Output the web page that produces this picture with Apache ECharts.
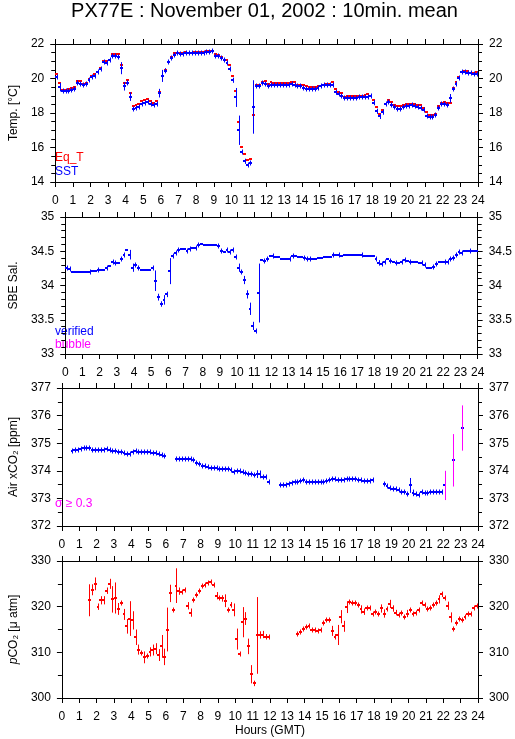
<!DOCTYPE html>
<html>
<head>
<meta charset="utf-8">
<script src="https://cdn.jsdelivr.net/npm/echarts@6/dist/echarts.min.js"></script>
<style>
  html, body { margin: 0; padding: 0; background: #fff; }
  #chart { width: 515px; height: 739px; }
</style>
</head>
<body>
<div id="chart"></div>
<script>
// 10 min means, one value per slot from 00:00 GMT (6 per row = 1 hour), null = no data
let hourTicks = [0, 24, 1];

let eqTemp = [
  20.25, 19.75, 19.35, 19.35, 19.40, 19.45,
  19.50, 19.85, 19.85, 19.70, 19.75, 19.95,
  20.15, 20.25, 20.40, 20.60, 21.00, 21.00,
  21.10, 21.40, 21.40, 21.40, 20.80, 19.75,
  19.90, 19.15, 18.40, 18.45, 18.50, 18.70,
  18.75, 18.80, 18.70, 18.60, 18.70, 19.20,
  20.15, 20.50, 20.95, 21.25, 21.45, 21.50,
  21.50, 21.50, 21.55, 21.50, 21.50, 21.55,
  21.55, 21.55, 21.55, 21.60, 21.60, 21.60,
  21.40, 21.35, 21.25, 21.10, 21.05, 20.80,
  20.15, 19.25, 17.50, 16.05, 15.60, 15.25,
  15.35, 17.90, 19.65, 19.60, 19.80, 19.85,
  19.70, 19.80, 19.75, 19.75, 19.75, 19.75,
  19.75, 19.75, 19.80, 19.80, 19.65, 19.65,
  19.65, 19.55, 19.50, 19.50, 19.50, 19.55,
  19.55, 19.65, 19.70, 19.70, 19.80, 19.40,
  19.20, 19.15, 18.95, 19.00, 19.00, 19.00,
  19.00, 19.00, 19.00, 19.05, 19.10, 19.00,
  18.75, 18.35, 17.95, 18.15, 18.55, 18.75,
  18.65, 18.45, 18.40, 18.40, 18.45, 18.50,
  18.55, 18.50, 18.50, 18.45, 18.45, 18.30,
  18.05, 17.90, 17.90, 17.95, 18.40, 18.60,
  18.65, 18.60, 18.60, 19.45, 19.80, 20.10,
  20.40, 20.45, 20.45, 20.30, 20.30, 20.35
];

let sstTemp = [
  20.10, 19.50, 19.25, 19.25, 19.30, 19.35,
  19.40, 19.75, 19.70, 19.60, 19.70, 19.90,
  20.10, 20.15, 20.35, 20.55, 20.95, 20.90,
  21.05, 21.30, 21.30, 21.25, 20.60, 19.55,
  19.75, 18.95, 18.25, 18.30, 18.35, 18.55,
  18.60, 18.65, 18.55, 18.45, 18.50, 19.15,
  20.15, 20.45, 20.95, 21.20, 21.35, 21.45,
  21.42, 21.40, 21.45, 21.45, 21.45, 21.50,
  21.50, 21.50, 21.50, 21.55, 21.55, 21.60,
  21.30, 21.30, 21.20, 21.05, 20.90, 20.55,
  19.90, 18.90, 17.00, 15.75, 15.20, 15.00,
  15.10, 18.35, 19.55, 19.55, 19.75, 19.70,
  19.55, 19.65, 19.60, 19.60, 19.60, 19.60,
  19.60, 19.65, 19.70, 19.65, 19.55, 19.55,
  19.45, 19.40, 19.40, 19.40, 19.40, 19.45,
  19.55, 19.60, 19.60, 19.65, 19.65, 19.20,
  19.10, 19.00, 18.85, 18.85, 18.85, 18.85,
  18.85, 18.90, 18.90, 18.90, 18.95, 19.00,
  18.60, 18.10, 17.80, 18.05, 18.50, 18.65,
  18.45, 18.35, 18.25, 18.25, 18.35, 18.40,
  18.40, 18.45, 18.40, 18.35, 18.30, 18.15,
  17.85, 17.75, 17.75, 17.90, 18.30, 18.55,
  18.55, 18.45, 18.85, 19.40, 19.70, 20.05,
  20.40, 20.40, 20.30, 20.30, 20.25, 20.25
];

let sstSigma = [
  .12, .25, .04, .04, .04, .04,
  .04, .15, .06, .06, .06, .08,
  .04, .04, .06, .06, .06, .04,
  .06, .04, .04, .06, .35, .25,
  .15, .25, .08, .06, .06, .06,
  .04, .08, .06, .08, .04, .25,
  .35, .15, .10, .10, .06, .04,
  .04, .04, .04, .04, .04, .04,
  .04, .04, .04, .04, .04, .04,
  .06, .06, .08, .06, .10, .10,
  .15, .55, .85, .10, .15, .08,
  .06, 1.55, .08, .06, .06, .06,
  .06, .04, .04, .04, .04, .04,
  .04, .04, .04, .04, .04, .04,
  .04, .04, .04, .04, .04, .04,
  .04, .04, .04, .04, .08, .15,
  .10, .06, .04, .04, .04, .04,
  .04, .04, .04, .04, .04, .06,
  .15, .15, .15, .15, .10, .06,
  .06, .06, .04, .04, .04, .04,
  .04, .04, .04, .04, .04, .08,
  .08, .04, .04, .04, .06, .10,
  .06, .06, .25, .12, .12, .10,
  .06, .04, .04, .04, .04, .04
];

let salinity = [
  34.26, 34.24, 34.20, 34.20, 34.20, 34.20,
  34.20, 34.20, 34.19, 34.21, 34.21, 34.22,
  34.22, 34.22, 34.25, 34.28, 34.34, 34.33,
  34.33, 34.38, 34.45, 34.52, 34.45, 34.26,
  34.30, 34.26, 34.22, 34.22, 34.22, 34.22,
  34.25, 34.07, 33.83, 33.73, 33.79, 33.87,
  34.21, 34.43, 34.48, 34.52, 34.53, 34.53,
  34.50, 34.54, 34.55, 34.55, 34.59, 34.60,
  34.59, 34.59, 34.59, 34.59, 34.59, 34.58,
  34.50, 34.49, 34.52, 34.49, 34.52, 34.42,
  34.26, 34.19, 34.08, 33.87, 33.66, 33.41,
  33.33, 33.89, 34.37, 34.36, 34.39, 34.43,
  34.43, 34.41, 34.41, 34.39, 34.39, 34.39,
  34.39, 34.43, 34.43, 34.41, 34.41, 34.40,
  34.39, 34.39, 34.38, 34.38, 34.40, 34.40,
  34.42, 34.42, 34.42, 34.44, 34.45, 34.44,
  34.43, 34.45, 34.45, 34.44, 34.44, 34.44,
  34.44, 34.44, 34.43, 34.43, 34.43, 34.43,
  34.38, 34.33, 34.31, 34.35, 34.38, 34.36,
  34.34, 34.33, 34.33, 34.34, 34.37, 34.36,
  34.35, 34.35, 34.35, 34.33, 34.33, 34.30,
  34.26, 34.26, 34.27, 34.32, 34.35, 34.35,
  34.34, 34.34, 34.39, 34.40, 34.45, 34.49,
  34.48, 34.50, 34.51, 34.50, 34.51, 34.51
];

let salSigma = [
  .02, .02, 0, 0, 0, 0,
  0, 0, .02, 0, 0, .02,
  0, 0, .02, 0, .02, .02,
  0, .02, .03, 0, .07, .06,
  .02, .02, 0, 0, 0, 0,
  .02, .15, .05, .04, .07, .04,
  .19, .02, .02, .02, 0, 0,
  .02, .02, 0, .02, .02, 0,
  0, 0, 0, 0, 0, .02,
  .02, 0, .02, .02, .02, .02,
  .06, .02, .06, .06, .09, .06,
  .02, .43, 0, .02, .02, 0,
  .02, 0, 0, 0, 0, 0,
  .02, .02, 0, 0, 0, .02,
  .02, .02, 0, 0, 0, 0,
  0, 0, 0, .02, 0, .02,
  0, 0, 0, 0, 0, 0,
  0, .02, 0, 0, 0, 0,
  .02, .04, .02, .02, 0, .02,
  0, .02, 0, .02, .02, 0,
  .02, 0, 0, 0, .02, .02,
  0, 0, .02, .02, 0, 0,
  .02, .02, .02, .02, .02, .02,
  .02, 0, 0, .02, 0, 0
];

let airCO2 = [
  null, null, null, 374.72, 374.74, 374.74,
  374.80, 374.82, 374.83, 374.83, 374.77, 374.75,
  374.75, 374.75, 374.75, 374.78, 374.75, 374.72,
  374.70, 374.68, 374.68, 374.65, 374.60, 374.62,
  374.68, 374.70, 374.69, 374.69, 374.69, 374.69,
  374.69, 374.66, 374.65, 374.62, 374.57, 374.53,
  null, null, null, 374.43, 374.43, 374.43,
  374.43, 374.43, 374.43, 374.40, 374.30, 374.25,
  374.18, 374.17, 374.12, 374.11, 374.10, 374.10,
  374.07, 374.06, 374.05, 374.05, 374.02, 373.97,
  374.00, 374.00, 373.94, 373.92, 373.90, 373.88,
  373.86, 373.88, 373.87, 373.76, 373.76, 373.61,
  null, null, null, 373.47, 373.47, 373.47,
  373.52, 373.55, 373.59, 373.61, 373.64, 373.65,
  373.61, 373.59, 373.61, 373.61, 373.61, 373.59,
  373.59, 373.62, 373.66, 373.69, 373.69, 373.67,
  373.67, 373.67, 373.70, 373.72, 373.72, 373.70,
  373.66, 373.65, 373.62, 373.62, 373.63, 373.65,
  null, null, null, 373.52, 373.45, 373.38,
  373.35, 373.35, 373.30, 373.25, 373.23, 373.15,
  373.47, 373.20, 373.17, 373.13, 373.22, 373.20,
  373.20, 373.23, 373.23, 373.23, 373.23, 373.23,
  373.47, null, null, 374.38, null, null,
  375.55, null, null, null, null, null
];

let airSigma = [
  0, 0, 0, .03, .03, .03,
  .03, .03, .03, .03, .03, .03,
  .03, .03, .03, .03, .03, .03,
  .03, .03, .03, .03, .03, .03,
  .03, .03, .03, .03, .03, .03,
  .03, .03, .03, .03, .03, .03,
  0, 0, 0, .03, .03, .03,
  .03, .03, .03, .03, .03, .03,
  .03, .03, .03, .03, .03, .03,
  .03, .03, .03, .03, .03, .03,
  .03, .03, .03, .03, .03, .03,
  .03, .14, .14, .03, .03, .05,
  0, 0, 0, .03, .03, .03,
  .03, .03, .03, .03, .03, .03,
  .03, .03, .03, .03, .03, .03,
  .03, .03, .03, .03, .03, .03,
  .03, .03, .03, .03, .03, .03,
  .03, .03, .03, .03, .03, .03,
  0, 0, 0, .03, .03, .03,
  .03, .03, .03, .03, .03, .03,
  .27, .12, .03, .03, .03, .03,
  .03, .03, .03, .03, .03, .03,
  .53, 0, 0, .95, 0, 0,
  .82, 0, 0, 0, 0, 0
];

let seaCO2 = [
  null, null, null, null, null, null,
  null, null, null, 321.4, 323.7, 325.0,
  320.0, 321.4, 321.4, 323.5, 325.0, 321.6,
  321.9, 319.5, 320.8, 318.3, 315.7, 317.4,
  317.0, 313.3, 310.6, 309.8, 308.9, 309.2,
  310.1, 310.5, 310.8, 309.4, 311.3, 309.0,
  315.0, 322.9, 319.2, 324.6, 323.4, 323.2,
  323.6, 320.2, 318.7, 321.5, 322.6, 323.5,
  324.6, 324.8, 325.1, 325.3, 324.8, 322.4,
  321.9, 321.8, 321.3, 319.3, 320.4, 319.3,
  312.9, 309.6, 316.6, 317.4, 311.3, 305.2,
  303.2, 313.7, 313.8, 313.9, 313.4, 313.3,
  null, null, null, null, null, null,
  null, null, null, 313.95, 314.5, 315.1,
  315.55, 315.8, 315.0, 315.0, 314.6, 314.8,
  316.35, 317.0, 317.0, 314.7, 313.4, 313.8,
  317.8, 315.7, 319.9, 321.1, 320.8, 320.8,
  320.3, 319.4, 318.9, 319.8, 319.6, 318.5,
  318.9, 318.5, 319.6, 318.5, 319.5, 320.6,
  319.6, 318.7, 318.2, 318.7, 317.8, 318.5,
  319.3, 318.5, 318.7, 319.2, 320.9, 320.3,
  319.5, 319.8, 320.3, 320.7, 321.6, 322.7,
  321.8, 320.2, 317.65, 315.1, 316.35, 317.2,
  317.0, 317.7, 318.5, 318.5, 319.6, 320.1
];

let seaSigma = [
  0, 0, 0, 0, 0, 0,
  0, 0, 0, 3.5, 1.2, 1.4,
  .7, .9, .9, .7, 1.1, 2.9,
  3.4, 1.3, .4, 1.2, 1.6, 3.8,
  2.0, 1.7, 1.1, .5, 1.3, .5,
  1.0, 1.2, 1.2, 1.3, 2.5, 1.8,
  4.8, 1.9, .5, 3.8, .8, .5,
  .4, .8, .9, .4, .4, .3,
  .3, .3, .3, .3, .3, .8,
  .4, .7, 1.4, .5, .6, 1.4,
  2.3, .5, 3.3, 1.4, 1.7, 2.0,
  .6, 8.4, .8, .8, .6, .5,
  0, 0, 0, 0, 0, 0,
  0, 0, 0, .5, .4, .4,
  .3, .4, .3, .3, .3, .3,
  .5, .4, .4, 1.1, .6, 2.2,
  1.45, 1.2, 1.3, .3, .3, .3,
  .4, .9, .7, .3, .3, .5,
  .5, .5, .9, .9, .5, .9,
  .7, .6, .5, .4, .4, .8,
  .5, .3, .3, .5, .3, .5,
  .5, .4, .3, .3, .9, .6,
  .4, .9, 1.1, .5, .4, .4,
  .3, .4, .3, .3, .5, .4
];

// panel y ranges [min, max, label step, minor splits]
let tempAxis = [14, 22, 2, 4];
let salAxis = [33, 35, 0.5, 5];
let airAxis = [372, 377, 1, 2];
let seaAxis = [300, 330, 10, 2];

const SLOT = 1 / 6;

function slots(values, sigmas) {
    let out = [];
    for (let i = 0; i < values.length; i++) {
        if (values[i] == null) continue;
        out.push([i * SLOT + SLOT / 2, values[i], sigmas ? sigmas[i] : 0]);
    }
    return out;
}

// each 10 min mean drawn as a bar over its slot plus a +-sigma whisker
function crossMark(color, hWidth, flagColor, flagLimit) {
    return function (params, api) {
        let t = api.value(0), v = api.value(1), s = api.value(2);
        let a = api.coord([t - SLOT / 2, v]);
        let b = api.coord([t + SLOT / 2, v]);
        let y = Math.round(a[1]) + (hWidth % 2 ? 0.5 : 0);
        let x = Math.round((a[0] + b[0]) / 2) + 0.5;
        let kids = [{
            type: 'line',
            shape: {x1: Math.round(a[0]), y1: y, x2: Math.round(b[0]), y2: y},
            style: {stroke: color, lineWidth: hWidth}
        }];
        if (s > 0) {
            let top = api.coord([t, v + s])[1];
            let bot = api.coord([t, v - s])[1];
            if (bot - top < 5) { top = y - 2.5; bot = y + 2.5; }
            kids.push({
                type: 'line',
                shape: {x1: x, y1: top, x2: x, y2: bot},
                style: {stroke: (flagLimit && s >= flagLimit) ? flagColor : color, lineWidth: 1}
            });
        }
        return {type: 'group', children: kids};
    };
}

const FONT = '"Liberation Sans", Arial, Helvetica, sans-serif';
const tops = [44, 217, 388, 561];
const heights = [138, 137, 138, 137];

let grids = tops.map((t, k) => ({left: 51, top: t, width: 427, height: heights[k]}));

let xAxes = [];
let yAxes = [];
let yNames = ['Temp. [°C]', 'SBE Sal.', 'Air xCO₂ [ppm]', '{i|p}CO₂ [μ atm]'];
let yRanges = [tempAxis, salAxis, airAxis, seaAxis];

for (let k = 0; k < 4; k++) {
    ['bottom', 'top'].forEach(pos => {
        xAxes.push({
            type: 'value', gridIndex: k, position: pos,
            min: hourTicks[0], max: hourTicks[1], interval: hourTicks[2],
            axisLine: {show: true, onZero: false, lineStyle: {color: '#000', width: 1}},
            axisTick: {show: true, inside: false, length: 5, lineStyle: {color: '#000'}},
            axisLabel: {show: pos === 'bottom', color: '#000', fontSize: 12, fontFamily: FONT, margin: 13},
            splitLine: {show: false},
            name: (k === 3 && pos === 'bottom') ? 'Hours (GMT)' : '',
            nameLocation: 'middle', nameGap: 27,
            nameTextStyle: {color: '#000', fontSize: 12, fontFamily: FONT}
        });
    });
    let r = yRanges[k];
    ['left', 'right'].forEach(pos => {
        yAxes.push({
            type: 'value', gridIndex: k, position: pos,
            min: r[0], max: r[1], interval: r[2],
            axisLine: {show: true, onZero: false, lineStyle: {color: '#000', width: 1}},
            axisTick: {show: true, inside: false, length: 5, lineStyle: {color: '#000'}},
            minorTick: {show: true, splitNumber: r[3], length: 4, lineStyle: {color: '#000'}},
            axisLabel: {color: '#000', fontSize: 12, fontFamily: FONT, margin: 11},
            splitLine: {show: false},
            minorSplitLine: {show: false},
            name: pos === 'left' ? yNames[k] : '',
            nameLocation: 'middle', nameGap: 25, nameRotate: 90,
            nameTextStyle: {
                color: '#000', fontSize: 12, fontFamily: FONT,
                rich: {i: {fontStyle: 'italic', fontSize: 12, fontFamily: FONT, color: '#000'}}
            }
        });
    });
}

function panelSeries(k, data, renderer) {
    return {
        type: 'custom', xAxisIndex: 2 * k, yAxisIndex: 2 * k,
        encode: {x: 0, y: 1}, data: data, renderItem: renderer, silent: true
    };
}

let series = [
    panelSeries(0, slots(eqTemp), crossMark('#ff0000', 2)),
    panelSeries(0, slots(sstTemp, sstSigma), crossMark('#0000ff', 2)),
    panelSeries(1, slots(salinity, salSigma), crossMark('#0000ff', 2)),
    panelSeries(2, slots(airCO2, airSigma), crossMark('#0000ff', 2, '#ff00ff', 0.3)),
    panelSeries(3, slots(seaCO2, seaSigma), crossMark('#ff0000', 2))
];

function label(text, x, y, color, size) {
    return {
        type: 'text', x: x, y: y, silent: true,
        style: {text: text, fill: color, font: (size || 12) + 'px ' + FONT, textVerticalAlign: 'middle'}
    };
}

let title = label('PX77E : November 01, 2002 : 10min. mean', 264.5, 11, '#000', 20);
title.style.textAlign = 'center';

let option = {
    animation: false,
    backgroundColor: '#fff',
    grid: grids,
    xAxis: xAxes,
    yAxis: yAxes,
    series: series,
    graphic: [
        title,
        label('Eq_T', 55, 158, '#ff0000'),
        label('SST', 55, 172, '#0000ff'),
        label('verified', 55, 332, '#0000ff'),
        label('bubble', 55, 345, '#ff00ff'),
        label('σ ≥ 0.3', 55, 504, '#ff00ff')
    ]
};

let chart = echarts.init(document.getElementById('chart'), null, {renderer: 'canvas'});
chart.setOption(option);
</script>
</body>
</html>
